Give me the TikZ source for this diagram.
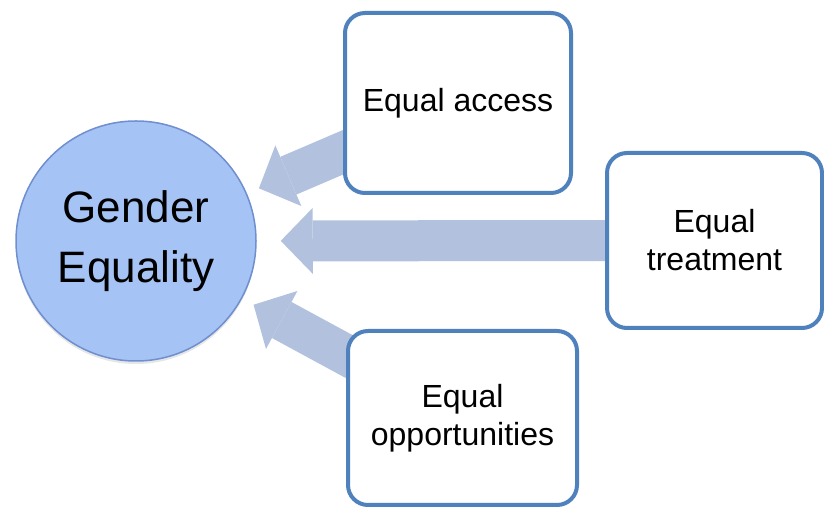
\documentclass[tikz,border=0pt]{standalone}
\usepackage{fontspec}
\setmainfont{Liberation Sans}
\usetikzlibrary{arrows.meta,backgrounds,shadows}
\definecolor{goalfill}{RGB}{165,195,245}
\definecolor{goalline}{RGB}{111,143,207}
\definecolor{pillarline}{RGB}{79,129,189}
\definecolor{flowfill}{RGB}{178,194,222}
\begin{document}
\begin{tikzpicture}[x=1pt, y=1pt,
        goal/.style={circle, fill=goalfill, draw=goalline, line width=1.5pt, minimum size=240pt, inner sep=0pt, align=center, font=\fontsize{44}{60}\selectfont, drop shadow={opacity=0.2, shadow xshift=0pt, shadow yshift=-3pt}},
        pillar/.style={draw=pillarline, fill=white, line width=4pt, rounded corners=20pt, minimum width=226pt, minimum height=180pt, align=center, font=\fontsize{32}{38}\selectfont},
        flow/.style={draw=flowfill, line width=41pt, -{Triangle[width=66pt, length=32pt, line width=0pt]}}]
    \useasboundingbox (0, 0) rectangle (824, 508);
    \node[goal] (gender) at (136, 267) {Gender\\Equality};
    \node[pillar] (access) at (458, 405) {Equal access};
    \node[pillar, minimum width=215pt, minimum height=175pt] (treat) at (714.5, 267.5) {Equal\\treatment};
    \node[pillar, minimum width=229pt, minimum height=174pt] (opps) at (462.5, 90) {Equal\\opportunities};
    % block arrows sit behind the boxes
    \begin{scope}[on background layer]
        \draw[flow, shorten >=13pt] (access.center) -- (gender);
        \draw[flow, shorten >=24pt] (treat.center) -- (gender);
        \draw[flow, shorten >=13pt] (opps.center) -- (gender);
    \end{scope}
\end{tikzpicture}
\end{document}
